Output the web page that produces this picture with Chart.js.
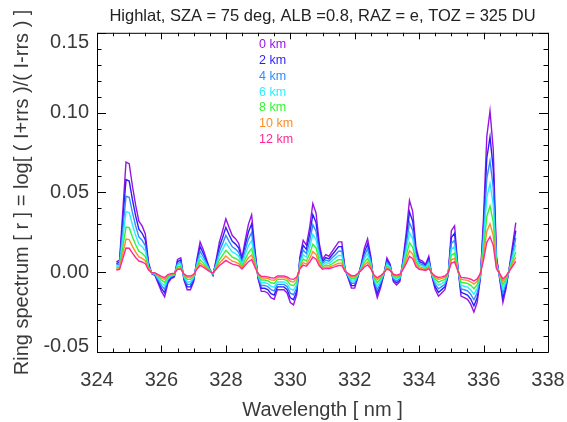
<!DOCTYPE html>
<html>
<head>
<meta charset="utf-8">
<script src="https://cdn.jsdelivr.net/npm/chart.js@4.4.1/dist/chart.umd.min.js"></script>
<style>
html,body{margin:0;padding:0;background:#fff;}
canvas{display:block;}
</style>
</head>
<body>
<canvas id="c" width="567" height="422"></canvas>
<script>
const titleText = 'Highlat, SZA = 75 deg, ALB =0.8, RAZ = e, TOZ = 325 DU';
const xTitle = 'Wavelength [ nm ]';
const yTitle = 'Ring spectrum [ r ] = log[ ( I+rrs )/( I-rrs ) ]';
const seriesLabels = ['0 km', '2 km', '4 km', '6 km', '8 km', '10 km', '12 km'];
const seriesColors = ['rgb(150,20,230)', 'rgb(40,30,255)', 'rgb(50,140,255)', 'rgb(40,240,255)', 'rgb(50,245,50)', 'rgb(255,140,40)', 'rgb(255,40,150)'];

const wavelengths = [324.6,324.7,324.8,324.9,325.0,325.1,325.2,325.3,325.4,325.5,
325.6,325.7,325.8,325.9,326.0,326.1,326.2,326.3,326.4,326.5,
326.6,326.7,326.8,326.9,327.0,327.1,327.2,327.3,327.4,327.5,
327.6,327.7,327.8,327.9,328.0,328.1,328.2,328.3,328.4,328.5,
328.6,328.7,328.8,328.9,329.0,329.1,329.2,329.3,329.4,329.5,
329.6,329.7,329.8,329.9,330.0,330.1,330.2,330.3,330.4,330.5,
330.6,330.7,330.8,330.9,331.0,331.1,331.2,331.3,331.4,331.5,
331.6,331.7,331.8,331.9,332.0,332.1,332.2,332.3,332.4,332.5,
332.6,332.7,332.8,332.9,333.0,333.1,333.2,333.3,333.4,333.5,
333.6,333.7,333.8,333.9,334.0,334.1,334.2,334.3,334.4,334.5,
334.6,334.7,334.8,334.9,335.0,335.1,335.2,335.3,335.4,335.5,
335.6,335.7,335.8,335.9,336.0,336.1,336.2,336.3,336.4,336.5,
336.6,336.7,336.8,336.9,337.0];

const km0 = [0.0064,0.0075,0.038,0.069,0.068,0.054,0.042,0.032,0.029,0.024,
0.006,-0.001,-0.002,-0.007,-0.012,-0.0155,-0.007,-0.004,-0.003,0.008,
0.009,-0.005,-0.011,-0.011,-0.006,0.008,0.019,0.014,0.008,0.002,
-0.002,0.008,0.019,0.026,0.0335,0.028,0.023,0.021,0.018,0.009,
0.020,0.030,0.036,0.015,-0.004,-0.012,-0.012,-0.013,-0.016,-0.017,
-0.011,-0.011,-0.011,-0.013,-0.019,-0.0205,-0.014,0.010,0.020,0.017,
0.028,0.043,0.037,0.018,0.008,0.011,0.010,0.013,0.016,0.019,
0.019,0.002,-0.004,-0.010,-0.010,-0.003,0.005,0.015,0.021,0.010,
-0.008,-0.016,-0.010,-0.002,0.009,0.005,-0.006,-0.008,-0.006,0.008,
0.025,0.045,0.038,0.016,0.008,0.007,0.005,0.010,-0.003,-0.011,
-0.015,-0.013,-0.011,-0.002,0.026,0.029,0.004,-0.015,-0.016,-0.017,
-0.020,-0.025,-0.019,-0.004,0.035,0.085,0.101,0.077,0.010,-0.004,
-0.019,-0.010,0.003,0.017,0.031];

const km2 = [0.0054,0.0063,0.0319,0.058,0.0571,0.0454,0.0353,0.0269,0.0244,0.0202,
0.005,-0.0008,-0.0017,-0.0059,-0.0101,-0.013,-0.0059,-0.0034,-0.0025,0.0067,
0.0076,-0.0042,-0.0092,-0.0092,-0.005,0.0067,0.016,0.0118,0.0067,0.0017,
-0.0017,0.0067,0.016,0.0218,0.0281,0.0235,0.0193,0.0176,0.0151,0.0076,
0.0168,0.0252,0.0302,0.0126,-0.0034,-0.0101,-0.0101,-0.0109,-0.0134,-0.0143,
-0.0092,-0.0092,-0.0092,-0.0109,-0.016,-0.0172,-0.0118,0.0084,0.0168,0.0143,
0.0235,0.0361,0.0311,0.0151,0.0067,0.0092,0.0084,0.0109,0.0134,0.016,
0.016,0.0017,-0.0034,-0.0084,-0.0084,-0.0025,0.0042,0.0126,0.0176,0.0084,
-0.0067,-0.0134,-0.0084,-0.0017,0.0076,0.0042,-0.005,-0.0067,-0.005,0.0067,
0.021,0.0378,0.0319,0.0134,0.0067,0.0059,0.0042,0.0084,-0.0025,-0.0092,
-0.0126,-0.0109,-0.0092,-0.0017,0.0218,0.0244,0.0034,-0.0126,-0.0134,-0.0143,
-0.0168,-0.021,-0.016,-0.0034,0.0294,0.0714,0.0848,0.0647,0.0084,-0.0034,
-0.016,-0.0084,0.0025,0.0143,0.026];

const km4 = [0.0044,0.0052,0.0262,0.0476,0.0469,0.0373,0.029,0.0221,0.020,0.0166,
0.0041,-0.0007,-0.0014,-0.0048,-0.0083,-0.0107,-0.0048,-0.0028,-0.0021,0.0055,
0.0062,-0.0035,-0.0076,-0.0076,-0.0041,0.0055,0.0131,0.0097,0.0055,0.0014,
-0.0014,0.0055,0.0131,0.0179,0.0231,0.0193,0.0159,0.0145,0.0124,0.0062,
0.0138,0.0207,0.0248,0.0104,-0.0028,-0.0083,-0.0083,-0.009,-0.011,-0.0117,
-0.0076,-0.0076,-0.0076,-0.009,-0.0131,-0.0141,-0.0097,0.0069,0.0138,0.0117,
0.0193,0.0297,0.0255,0.0124,0.0055,0.0076,0.0069,0.009,0.011,0.0131,
0.0131,0.0014,-0.0028,-0.0069,-0.0069,-0.0021,0.0035,0.0104,0.0145,0.0069,
-0.0055,-0.011,-0.0069,-0.0014,0.0062,0.0035,-0.0041,-0.0055,-0.0041,0.0055,
0.0173,0.0311,0.0262,0.011,0.0055,0.0048,0.0035,0.0069,-0.0021,-0.0076,
-0.0104,-0.009,-0.0076,-0.0014,0.0179,0.020,0.0028,-0.0104,-0.011,-0.0117,
-0.0138,-0.0173,-0.0131,-0.0028,0.0242,0.0587,0.0697,0.0531,0.0069,-0.0028,
-0.0131,-0.0069,0.0021,0.0117,0.0214];

const km6 = [0.0035,0.0041,0.0209,0.038,0.0374,0.0297,0.0231,0.0176,0.016,0.0132,
0.0033,-0.0006,-0.0011,-0.0039,-0.0066,-0.0085,-0.0039,-0.0022,-0.0017,0.0044,
0.005,-0.0028,-0.0061,-0.0061,-0.0033,0.0044,0.0105,0.0077,0.0044,0.0011,
-0.0011,0.0044,0.0105,0.0143,0.0184,0.0154,0.0127,0.0116,0.0099,0.005,
0.011,0.0165,0.0198,0.0083,-0.0022,-0.0066,-0.0066,-0.0072,-0.0088,-0.0094,
-0.0061,-0.0061,-0.0061,-0.0072,-0.0105,-0.0113,-0.0077,0.0055,0.011,0.0094,
0.0154,0.0237,0.0204,0.0099,0.0044,0.0061,0.0055,0.0072,0.0088,0.0105,
0.0105,0.0011,-0.0022,-0.0055,-0.0055,-0.0017,0.0028,0.0083,0.0116,0.0055,
-0.0044,-0.0088,-0.0055,-0.0011,0.005,0.0028,-0.0033,-0.0044,-0.0033,0.0044,
0.0138,0.0248,0.0209,0.0088,0.0044,0.0039,0.0028,0.0055,-0.0017,-0.0061,
-0.0083,-0.0072,-0.0061,-0.0011,0.0143,0.016,0.0022,-0.0083,-0.0088,-0.0094,
-0.011,-0.0138,-0.0105,-0.0022,0.0193,0.0468,0.0556,0.0424,0.0055,-0.0022,
-0.0105,-0.0055,0.0017,0.0094,0.0171];

const km8 = [0.0026,0.0031,0.0156,0.0283,0.0279,0.0221,0.0172,0.0131,0.0119,0.0098,
0.0025,-0.0004,-0.0008,-0.0029,-0.0049,-0.0064,-0.0029,-0.0016,-0.0012,0.0033,
0.0037,-0.0021,-0.0045,-0.0045,-0.0025,0.0033,0.0078,0.0057,0.0033,0.0008,
-0.0008,0.0033,0.0078,0.0107,0.0137,0.0115,0.0094,0.0086,0.0074,0.0037,
0.0082,0.0123,0.0148,0.0062,-0.0016,-0.0049,-0.0049,-0.0053,-0.0066,-0.007,
-0.0045,-0.0045,-0.0045,-0.0053,-0.0078,-0.0084,-0.0057,0.0041,0.0082,0.007,
0.0115,0.0176,0.0152,0.0074,0.0033,0.0045,0.0041,0.0053,0.0066,0.0078,
0.0078,0.0008,-0.0016,-0.0041,-0.0041,-0.0012,0.0021,0.0062,0.0086,0.0041,
-0.0033,-0.0066,-0.0041,-0.0008,0.0037,0.0021,-0.0025,-0.0033,-0.0025,0.0033,
0.0103,0.0185,0.0156,0.0066,0.0033,0.0029,0.0021,0.0041,-0.0012,-0.0045,
-0.0062,-0.0053,-0.0045,-0.0008,0.0107,0.0119,0.0016,-0.0062,-0.0066,-0.007,
-0.0082,-0.0103,-0.0078,-0.0016,0.0144,0.0349,0.0414,0.0316,0.0041,-0.0016,
-0.0078,-0.0041,0.0012,0.007,0.0127];

const km10 = [0.0019,0.0023,0.0114,0.0207,0.0204,0.0162,0.0126,0.0096,0.0087,0.0072,
0.0018,-0.0003,-0.0006,-0.0021,-0.0036,-0.0047,-0.0021,-0.0012,-0.0009,0.0024,
0.0027,-0.0015,-0.0033,-0.0033,-0.0018,0.0024,0.0057,0.0042,0.0024,0.0006,
-0.0006,0.0024,0.0057,0.0078,0.0101,0.0084,0.0069,0.0063,0.0054,0.0027,
0.006,0.009,0.0108,0.0045,-0.0012,-0.0036,-0.0036,-0.0039,-0.0048,-0.0051,
-0.0033,-0.0033,-0.0033,-0.0039,-0.0057,-0.0062,-0.0042,0.003,0.006,0.0051,
0.0084,0.0129,0.0111,0.0054,0.0024,0.0033,0.003,0.0039,0.0048,0.0057,
0.0057,0.0006,-0.0012,-0.003,-0.003,-0.0009,0.0015,0.0045,0.0063,0.003,
-0.0024,-0.0048,-0.003,-0.0006,0.0027,0.0015,-0.0018,-0.0024,-0.0018,0.0024,
0.0075,0.0135,0.0114,0.0048,0.0024,0.0021,0.0015,0.003,-0.0009,-0.0033,
-0.0045,-0.0039,-0.0033,-0.0006,0.0078,0.0087,0.0012,-0.0045,-0.0048,-0.0051,
-0.006,-0.0075,-0.0057,-0.0012,0.0105,0.0255,0.0303,0.0231,0.003,-0.0012,
-0.0057,-0.003,0.0009,0.0051,0.0093];

const km12 = [0.0014,0.0017,0.0084,0.0152,0.015,0.0119,0.0092,0.007,0.0064,0.0053,
0.0013,-0.0002,-0.0004,-0.0015,-0.0026,-0.0034,-0.0015,-0.0009,-0.0007,0.0018,
0.002,-0.0011,-0.0024,-0.0024,-0.0013,0.0018,0.0042,0.0031,0.0018,0.0004,
-0.0004,0.0018,0.0042,0.0057,0.0074,0.0062,0.0051,0.0046,0.004,0.002,
0.0044,0.0066,0.0079,0.0033,-0.0009,-0.0026,-0.0026,-0.0029,-0.0035,-0.0037,
-0.0024,-0.0024,-0.0024,-0.0029,-0.0042,-0.0045,-0.0031,0.0022,0.0044,0.0037,
0.0062,0.0095,0.0081,0.004,0.0018,0.0024,0.0022,0.0029,0.0035,0.0042,
0.0042,0.0004,-0.0009,-0.0022,-0.0022,-0.0007,0.0011,0.0033,0.0046,0.0022,
-0.0018,-0.0035,-0.0022,-0.0004,0.002,0.0011,-0.0013,-0.0018,-0.0013,0.0018,
0.0055,0.0099,0.0084,0.0035,0.0018,0.0015,0.0011,0.0022,-0.0007,-0.0024,
-0.0033,-0.0029,-0.0024,-0.0004,0.0057,0.0064,0.0009,-0.0033,-0.0035,-0.0037,
-0.0044,-0.0055,-0.0042,-0.0009,0.0077,0.0187,0.0222,0.0169,0.0022,-0.0009,
-0.0042,-0.0022,0.0007,0.0037,0.0068];

const seriesValues = [km0, km2, km4, km6, km8, km10, km12];

const FONT = '"Liberation Sans", Arial, Helvetica, sans-serif';
const TEXT = '#3a3a3a';

const frameTicks = {
  id: 'frameTicks',
  afterDatasetsDraw(chart) {
    const {ctx, chartArea: a, scales: {x, y}} = chart;
    ctx.save();
    ctx.strokeStyle = '#000';
    ctx.lineWidth = 1;
    ctx.beginPath();
    ctx.rect(a.left + 0.5, a.top + 0.5, a.right - a.left, a.bottom - a.top);
    const nx = Math.round((x.max - x.min) / 0.5);
    for (let k = 0; k <= nx; k++) {
      const v = x.min + k * 0.5;
      const px = Math.round(x.getPixelForValue(v)) + 0.5;
      const L = (k % 4 === 0) ? 6.5 : 3.5;
      ctx.moveTo(px, a.bottom); ctx.lineTo(px, a.bottom - L);
      ctx.moveTo(px, a.top); ctx.lineTo(px, a.top + L);
    }
    const ny = Math.round((y.max - y.min) / 0.01);
    for (let k = 0; k <= ny; k++) {
      const v = y.min + k * 0.01;
      const py = Math.round(y.getPixelForValue(v)) + 0.5;
      const L = (k % 5 === 0) ? 9 : 4.5;
      ctx.moveTo(a.left, py); ctx.lineTo(a.left + L, py);
      ctx.moveTo(a.right, py); ctx.lineTo(a.right - L, py);
    }
    ctx.stroke();
    // in-plot legend (text only, coloured like the series)
    ctx.font = '12.5px ' + FONT;
    ctx.textAlign = 'left';
    ctx.textBaseline = 'middle';
    chart.data.datasets.forEach((ds, i) => {
      ctx.fillStyle = ds.borderColor;
      ctx.fillText(ds.label, a.left + 162, a.top + 12 + i * 15.8);
    });
    ctx.restore();
  }
};

const datasets = seriesLabels.map((lab, i) => ({
  label: lab,
  data: wavelengths.map((w, j) => ({x: w, y: seriesValues[i][j]})),
  borderColor: seriesColors[i],
  backgroundColor: seriesColors[i],
  borderWidth: 1.4,
  pointRadius: 0,
  tension: 0,
  fill: false,
  order: seriesLabels.length - i
}));

new Chart(document.getElementById('c'), {
  type: 'line',
  data: {datasets},
  options: {
    responsive: false,
    animation: false,
    devicePixelRatio: 1,
    layout: {padding: {left: 0, right: 19, top: 0, bottom: 0}},
    plugins: {
      legend: {display: false},
      tooltip: {enabled: false},
      title: {
        display: true,
        fullSize: false,
        text: titleText,
        color: '#222',
        font: {family: FONT, size: 16.5, weight: 'normal'},
        padding: {top: 7, bottom: 6}
      }
    },
    scales: {
      x: {
        type: 'linear',
        min: 324, max: 338,
        grid: {display: false, drawTicks: false},
        border: {display: false},
        ticks: {
          stepSize: 2,
          color: TEXT,
          padding: 16,
          maxRotation: 0,
          font: {family: FONT, size: 20},
          callback: v => String(v)
        },
        title: {
          display: true,
          text: xTitle,
          color: TEXT,
          font: {family: FONT, size: 20},
          padding: {top: 0, bottom: 0}
        },
        afterFit: s => { s.height = 70; s.paddingLeft = 0; s.paddingRight = 0; }
      },
      y: {
        type: 'linear',
        min: -0.05, max: 0.15,
        grid: {display: false, drawTicks: false},
        border: {display: false},
        ticks: {
          stepSize: 0.05,
          color: TEXT,
          padding: 8,
          font: ctx => {
            const v = ctx.tick ? ctx.tick.value : 0;
            if (Math.abs(v - 0.15) < 1e-6) return {family: FONT, size: 20, lineHeight: 0.95};
            if (Math.abs(v + 0.05) < 1e-6) return {family: FONT, size: 20, lineHeight: 0.55};
            return {family: FONT, size: 20, lineHeight: 1.2};
          },
          callback: v => {
            const s = (Math.abs(v) < 1e-9 ? 0 : v).toFixed(2);
            if (Math.abs(v - 0.15) < 1e-6) return ['', s];
            if (Math.abs(v + 0.05) < 1e-6) return [s, ''];
            return s;
          }
        },
        title: {
          display: true,
          text: yTitle,
          color: TEXT,
          font: {family: FONT, size: 20},
          padding: {top: 10, bottom: 0}
        },
        afterFit: s => { s.width = 97; s.paddingTop = 0; s.paddingBottom = 0; }
      }
    }
  },
  plugins: [frameTicks]
});
</script>
</body>
</html>
